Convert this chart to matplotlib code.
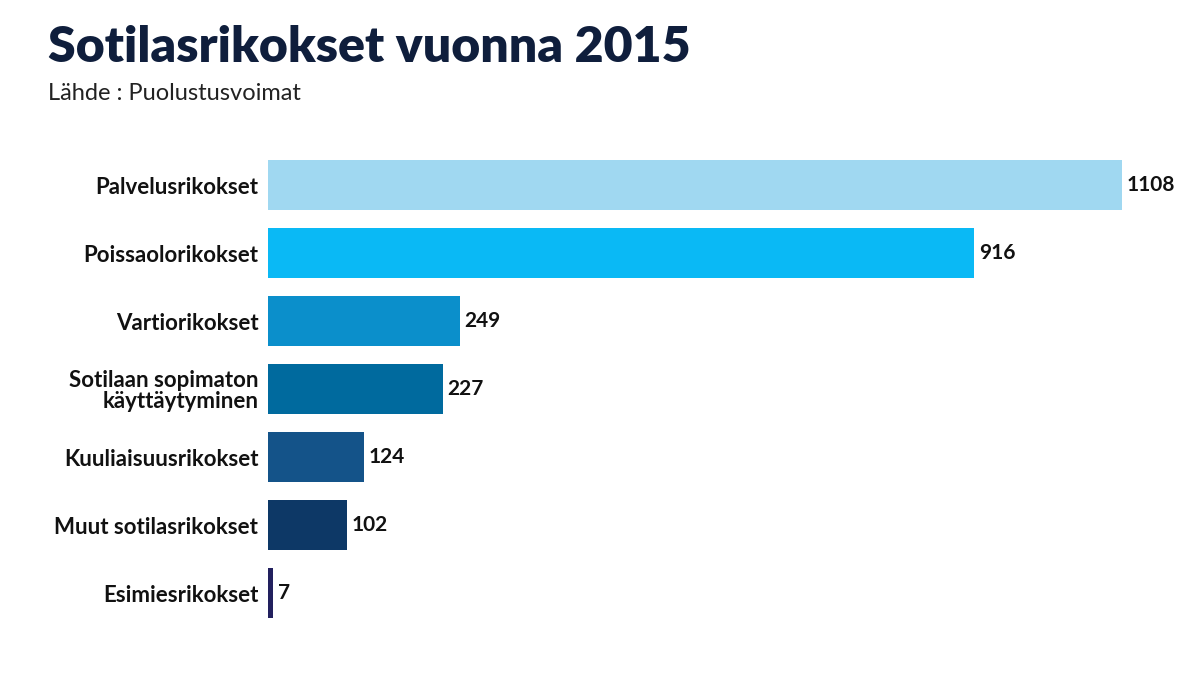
import matplotlib
matplotlib.use("Agg")
import matplotlib.pyplot as plt

categories = ["Palvelusrikokset", "Poissaolorikokset", "Vartiorikokset",
              "Sotilaan sopimaton\nkäyttäytyminen", "Kuuliaisuusrikokset",
              "Muut sotilasrikokset", "Esimiesrikokset"]
values = [1108, 916, 249, 227, 124, 102, 7]
colors = ["#A0D8F1", "#0AB9F5", "#0B8FCB", "#006A9E", "#145389", "#0D3866", "#22205E"]

plt.rcParams['font.family'] = ['Lato', 'DejaVu Sans']
fig = plt.figure(figsize=(11.98, 6.74), dpi=100)
ax = fig.add_axes([268/1198, 47/674, 930/1198, 476/674])
y = list(range(len(values)))
ax.barh(y, values, height=0.74, color=colors)
ax.set_ylim(6.5, -0.5)
ax.set_xlim(0, 1206)
ax.set_yticks(y)
ax.set_yticklabels(categories, fontsize=16, fontweight='bold', color='#111111', ha='right',
                   multialignment='right', linespacing=1.0)
ax.tick_params(axis='y', length=0, pad=7)
ax.set_xticks([])
for s in ax.spines.values():
    s.set_visible(False)
for yi, v in zip(y, values):
    ax.text(v + 6, yi, str(v), va='center', ha='left', fontsize=15, fontweight='bold', color='#111111')

fig.text(48/1198, 1 - 48/674, "Sotilasrikokset vuonna 2015", fontsize=36, fontweight='heavy',
         color='#0F1E3C', va='center', ha='left')
fig.text(48/1198, 1 - 93/674, "Lähde : Puolustusvoimat", fontsize=17, color='#222222',
         va='center', ha='left')
fig.savefig("out.png", dpi=100, facecolor='white')
